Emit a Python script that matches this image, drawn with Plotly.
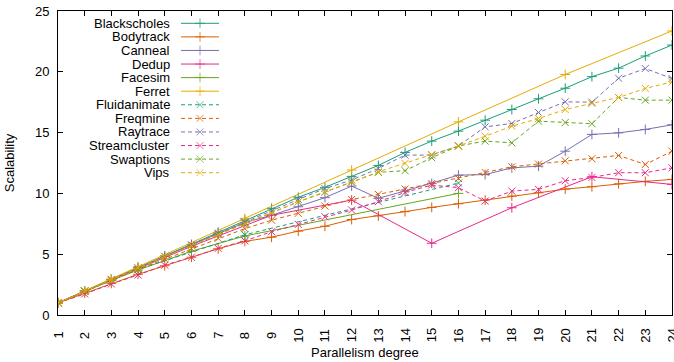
import plotly.graph_objects as go

# ---------------- data ----------------
x_full = list(range(1, 25))
x_tick_labels = [str(k) for k in x_full]
y_tick_vals = [0, 5, 10, 15, 20, 25]

blackscholes = [1, 1.97, 2.93, 3.9, 4.85, 5.8, 6.8, 7.8, 8.77, 9.68, 10.5, 11.4,
                12.3, 13.37, 14.3, 15.12, 16.02, 16.9, 17.78, 18.65, 19.6, 20.3, 21.3, 22.2]
bodytrack = [1, 1.8, 2.6, 3.35, 4.05, 4.75, 5.45, 6.05, 6.4, 6.9, 7.3, 7.85,
             8.15, 8.5, 8.85, 9.15, 9.45, 9.78, 10.05, 10.35, 10.55, 10.79, 10.99, 11.15]
canneal = [1, 1.97, 2.92, 3.88, 4.83, 5.77, 6.7, 7.6, 8.2, 8.9, 9.65, 10.6,
           9.6, 10.2, 10.82, 11.5, 11.55, 12.1, 12.24, 13.47, 14.85, 14.98, 15.26, 15.64]
dedup_x = [1, 3, 6, 9, 12, 15, 18, 21, 24]
dedup = [1, 2.9, 5.65, 8.2, 9.45, 5.9, 8.82, 11.37, 10.74]
facesim_x = [1, 2, 3, 4, 6, 8, 16]
facesim = [1, 1.95, 2.85, 3.7, 5.25, 6.5, 10.0]
ferret_x = [1, 2, 3, 4, 8, 12, 16, 20, 24]
ferret = [1, 1.98, 2.96, 3.97, 7.95, 11.92, 15.88, 19.78, 23.36]
fluidanimate_x = [1, 2, 4, 8, 16]
fluidanimate = [1, 1.95, 3.75, 6.6, 10.85]
freqmine = [1, 1.95, 2.85, 3.75, 4.6, 5.45, 6.3, 7.1, 7.8, 8.36, 8.96, 9.5,
            9.92, 10.36, 10.82, 11.23, 11.72, 12.19, 12.41, 12.68, 12.85, 13.12, 12.38, 13.47]
raytrace = [1, 1.97, 2.93, 3.88, 4.83, 5.78, 6.72, 7.65, 8.55, 9.5, 10.4, 11.1,
            12.05, 13.15, 13.15, 13.9, 15.47, 15.75, 16.65, 17.53, 17.5, 19.47, 20.27, 19.45]
streamcluster = [1, 1.73, 2.55, 3.29, 4.1, 4.75, 5.48, 6.1, 6.85, 7.45, 8.08, 8.63,
                 9.32, 10.08, 10.69, 10.47, 9.37, 10.19, 10.33, 11.04, 11.31, 11.7, 11.7, 12.1]
swaptions = [1, 1.97, 2.9, 3.85, 4.8, 5.72, 6.65, 7.55, 8.4, 9.3, 10.1, 10.95,
             11.73, 11.87, 12.93, 13.9, 14.3, 14.16, 15.94, 15.83, 15.73, 17.89, 17.67, 17.67]
vips = [1, 1.97, 2.9, 3.85, 4.8, 5.7, 6.6, 7.5, 8.36, 9.32, 10.14, 10.9,
        11.78, 12.47, 13.2, 13.9, 14.7, 15.53, 16.16, 16.9, 17.4, 17.89, 18.63, 19.17]

# ---------------- styles ----------------
C = ["#1b9e77", "#d95f02", "#7570b3", "#e7298a", "#66a61e", "#e6ab02"]
SOLID = ("solid", "cross-thin-open")
DASH = ("4px,3px", "x-thin-open")

series = [
    ("Blackscholes", x_full, blackscholes, C[0], SOLID),
    ("Bodytrack", x_full, bodytrack, C[1], SOLID),
    ("Canneal", x_full, canneal, C[2], SOLID),
    ("Dedup", dedup_x, dedup, C[3], SOLID),
    ("Facesim", facesim_x, facesim, C[4], SOLID),
    ("Ferret", ferret_x, ferret, C[5], SOLID),
    ("Fluidanimate", fluidanimate_x, fluidanimate, C[0], DASH),
    ("Freqmine", x_full, freqmine, C[1], DASH),
    ("Raytrace", x_full, raytrace, C[2], DASH),
    ("Streamcluster", x_full, streamcluster, C[3], DASH),
    ("Swaptions", x_full, swaptions, C[4], DASH),
    ("Vips", x_full, vips, C[5], DASH),
]

FONT = "Liberation Sans, Arial, Helvetica, sans-serif"
W, H = 674, 362
L, R, T, B = 58, 2, 11, 47
PX_L, PX_R, PX_T, PX_B = L, W - R, T, H - B

fig = go.Figure()

for name, xs, ys, color, (dash, sym) in series:
    fig.add_trace(go.Scatter(
        x=xs, y=ys, mode="lines+markers", name=name, showlegend=False,
        line=dict(color=color, width=1, dash=dash),
        marker=dict(symbol=sym, size=7, color=color, line=dict(color=color, width=1)),
        hoverinfo="skip",
    ))

# ---------------- gnuplot-style key (text left, sample right) ----------------
key_text_right = 172
key_line_x = [181, 200, 219]
key_top = 23.3
key_step = 13.58
annotations = []
for i, (name, xs, ys, color, (dash, sym)) in enumerate(series):
    yy = key_top + key_step * i
    fig.add_trace(go.Scatter(
        x=key_line_x, y=[yy] * 3, xaxis="x2", yaxis="y2", mode="lines+markers",
        showlegend=False, hoverinfo="skip",
        line=dict(color=color, width=1, dash=dash),
        marker=dict(symbol=sym, size=[0, 7, 0], color=color, line=dict(color=color, width=1)),
    ))
    annotations.append(dict(x=key_text_right, y=yy, xref="x2", yref="y2", text=name,
                            showarrow=False, xanchor="right", yanchor="middle",
                            font=dict(family=FONT, size=13, color="black")))

# rotated x tick labels, centred like gnuplot
plot_h = PX_B - PX_T
for k, lab in zip(x_full, x_tick_labels):
    annotations.append(dict(x=k, xref="x", y=-(335.5 - PX_B) / plot_h, yref="paper",
                            text=lab, showarrow=False, textangle=-90,
                            xanchor="center", yanchor="middle",
                            font=dict(family=FONT, size=13, color="black")))

# x title
annotations.append(dict(x=0.5, xref="paper", y=-(352 - PX_B) / plot_h, yref="paper",
                        text="Parallelism degree", showarrow=False,
                        xanchor="center", yanchor="middle",
                        font=dict(family=FONT, size=13, color="black")))

axis_common = dict(showline=True, linecolor="black", linewidth=1, mirror="allticks",
                   ticks="inside", ticklen=5, tickwidth=1, tickcolor="black",
                   showgrid=False, zeroline=False)

fig.update_layout(
    width=W, height=H,
    margin=dict(l=L, r=R, t=T, b=B, pad=0),
    paper_bgcolor="white", plot_bgcolor="white",
    font=dict(family=FONT, size=13, color="black"),
    xaxis=dict(range=[1, 24], tickmode="array", tickvals=x_full, showticklabels=False,
               **axis_common),
    yaxis=dict(range=[0, 25], tickmode="array", tickvals=y_tick_vals,
               ticktext=[str(v) for v in y_tick_vals], ticklabelstandoff=5,
               title=dict(text="Scalability", standoff=17,
                          font=dict(family=FONT, size=13, color="black")),
               **axis_common),
    xaxis2=dict(range=[PX_L, PX_R], overlaying="x", anchor="y2", visible=False),
    yaxis2=dict(range=[PX_B, PX_T], overlaying="y", anchor="x2", visible=False),
    annotations=annotations,
    showlegend=False,
)

fig.write_html("out.html",
               config={"displayModeBar": False, "staticPlot": True},
               post_script="document.body.style.margin='0';document.body.style.overflow='hidden';")
